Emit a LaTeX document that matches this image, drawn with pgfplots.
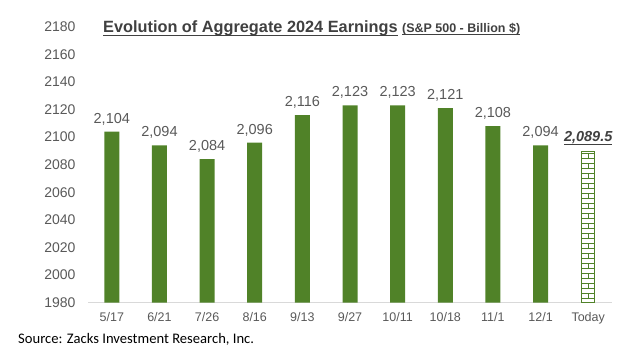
\documentclass[border=0pt]{standalone}
\usepackage{pgfplots}
\pgfplotsset{compat=1.18}
\usepackage{fontspec}
\setmainfont{Liberation Sans}
\newfontfamily\carlito{Carlito}
\usetikzlibrary{patterns}
\definecolor{barg}{RGB}{80,130,40}
\definecolor{tickgray}{RGB}{89,89,89}
\definecolor{titlegray}{RGB}{64,64,64}
\definecolor{axgray}{RGB}{217,217,217}
\pgfdeclarepatternformonly{mybricks}{\pgfpoint{-1pt}{-1pt}}{\pgfpoint{14pt}{11pt}}{\pgfpoint{13pt}{10pt}}{%
  \pgfsetlinewidth{0.8pt}%
  \pgfpathmoveto{\pgfpoint{-1pt}{0pt}}\pgfpathlineto{\pgfpoint{14pt}{0pt}}%
  \pgfpathmoveto{\pgfpoint{-1pt}{5pt}}\pgfpathlineto{\pgfpoint{14pt}{5pt}}%
  \pgfpathmoveto{\pgfpoint{-1pt}{10pt}}\pgfpathlineto{\pgfpoint{14pt}{10pt}}%
  \pgfpathmoveto{\pgfpoint{3pt}{0pt}}\pgfpathlineto{\pgfpoint{3pt}{5pt}}%
  \pgfpathmoveto{\pgfpoint{9.5pt}{5pt}}\pgfpathlineto{\pgfpoint{9.5pt}{10pt}}%
  \pgfusepath{stroke}}
\newcommand\ul[2]{\setbox0\hbox{#2}\rlap{\rule[#1]{\wd0}{1.1pt}}\box0\relax}
\begin{document}
\begin{tikzpicture}[x=1pt,y=1pt]
\path[use as bounding box] (0,0) rectangle (620,348);
\begin{axis}[
  at={(88pt,45.3pt)}, anchor=south west,
  scale only axis, width=524pt, height=276pt,
  xmin=-0.5, xmax=10.5, ymin=1980, ymax=2180,
  ytick={1980,2000,...,2180},
  xtick={0,...,10},
  xticklabels={5/17,6/21,7/26,8/16,9/13,9/27,10/11,10/18,11/1,12/1,Today},
  axis lines*=left,
  y axis line style={draw=none},
  x axis line style={draw=axgray, line width=1pt, -},
  major tick length=0pt,
  tick label style={text=tickgray},
  /pgf/number format/assume math mode=true,
  /pgf/number format/1000 sep={},
  yticklabel style={font=\fontsize{14}{16}\selectfont, xshift=-9pt},
  xticklabel style={font=\fontsize{12.5}{14}\selectfont, yshift=-6pt},
  point meta=explicit symbolic,
]
\addplot[ybar, bar width=15pt, fill=barg, draw=none,
  nodes near coords,
  nodes near coords style={font=\fontsize{14.5}{17}\selectfont, text=tickgray, yshift=3pt}]
  coordinates {
  (0,2104) [{2,104}]
  (1,2094) [{2,094}]
  (2,2084) [{2,084}]
  (3,2096) [{2,096}]
  (4,2116) [{2,116}]
  (5,2123) [{2,123}]
  (6,2123) [{2,123}]
  (7,2121) [{2,121}]
  (8,2108) [{2,108}]
  (9,2094) [{2,094}]
  };
\addplot[ybar, bar width=13pt, pattern=mybricks, pattern color=barg, draw=barg, line width=0.8pt,
  nodes near coords,
  nodes near coords style={font=\fontsize{14.5}{17}\selectfont\bfseries\itshape, text=titlegray, yshift=3pt}]
  coordinates {
  (10,2089.5) [{\ul{-3.5pt}{2,089.5}}]
  };
\end{axis}
\node[anchor=base west, inner sep=0pt, text=titlegray] at (103,315.5)
  {\fontsize{16.3}{19}\selectfont\bfseries\ul{-3.5pt}{Evolution of Aggregate 2024 Earnings}\ \fontsize{12.5}{14}\selectfont\ul{-3pt}{(S\&P 500 - Billion \$)}};
\node[anchor=base west, inner sep=0pt] at (18,5)
  {\carlito\fontsize{14.6}{16}\selectfont Source: Zacks Investment Research, Inc.};
\end{tikzpicture}
\end{document}
